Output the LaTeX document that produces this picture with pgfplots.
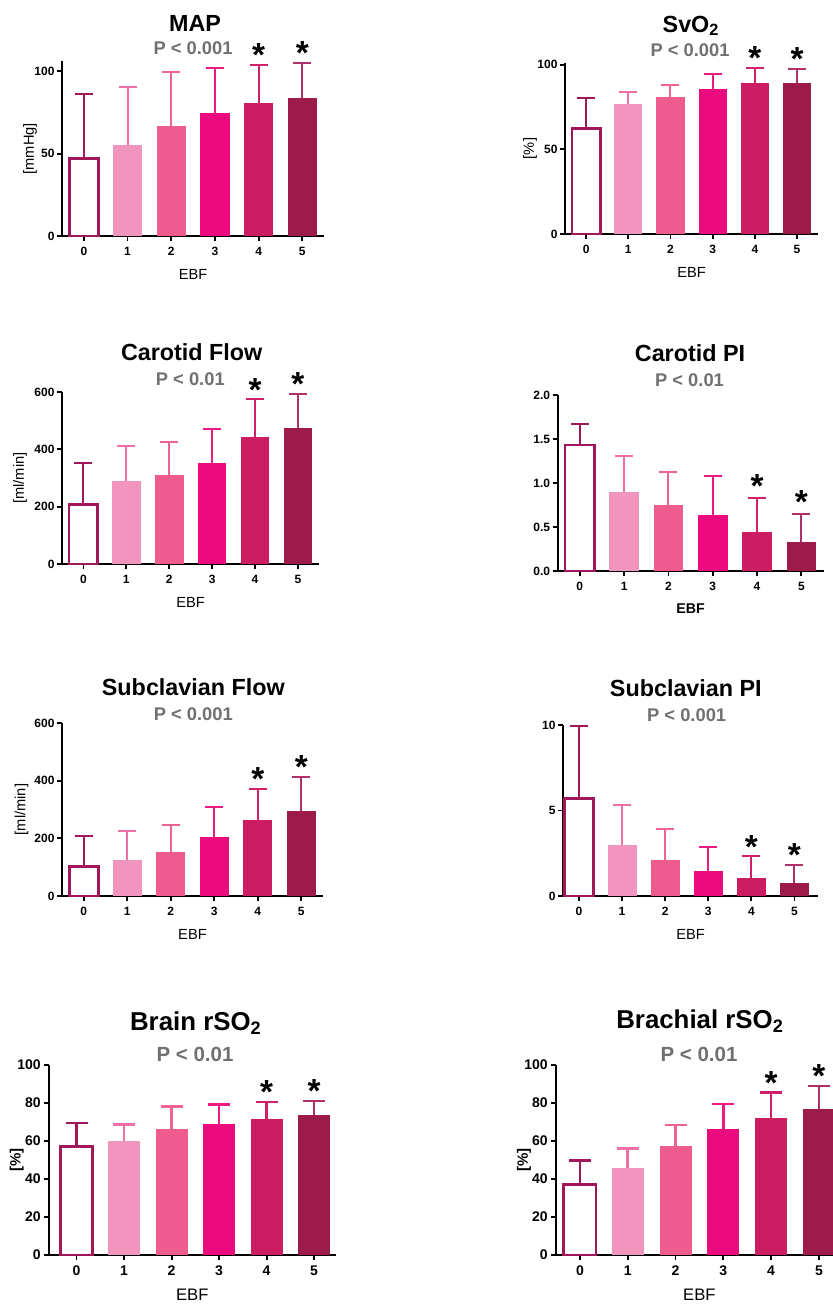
\documentclass[border=0pt]{standalone}
\usepackage{fontspec}
\setmainfont{Liberation Sans}
\usepackage{pgfplots}
\pgfplotsset{compat=1.18}

\definecolor{c0}{HTML}{A0185A}
\definecolor{c1}{HTML}{F295BE}
\definecolor{c2}{HTML}{EE5B8E}
\definecolor{c3}{HTML}{EC0B7E}
\definecolor{c4}{HTML}{CC1D62}
\definecolor{c5}{HTML}{9C1B4A}
\definecolor{e1}{HTML}{EE6FA3}
\definecolor{e2}{HTML}{EE6394}
\definecolor{e3}{HTML}{EC1A83}
\definecolor{e4}{HTML}{D0206A}
\definecolor{e5}{HTML}{B0306A}
\definecolor{pg}{HTML}{707070}

\def\elw{1.2pt}
\def\ems{5.4pt}
\newcommand{\bb}[5]{\addplot[ybar, bar shift=0pt, bar width=0.67, #1,
  error bars/.cd, y dir=plus, y explicit,
  error bar style={line width=\elw, color=#2},
  error mark options={rotate=90, color=#2, line width=\elw, mark size=\ems}]
  coordinates {(#3,#4) +- (0,#5)};}

\pgfplotsset{
  panel/.style={
    scale only axis, anchor=south west, clip=false,
    axis x line*=bottom, axis y line*=left,
    axis line style={-, line width=1.2pt, black},
    tick align=outside, major tick length=3pt,
    tick style={line width=1.1pt, black},
    xtick={0,...,5}, xmin=-0.5, xmax=5.5, ymin=0,
    /pgf/number format/assume math mode=true,
    ticklabel style={font=\bfseries\fontsize{7.2}{8}\selectfont},
    yticklabel style={xshift=2pt},
    every axis x label/.style={at={(axis description cs:0.5,0)}, anchor=center, yshift=-22.8pt},
    every axis y label/.style={at={(axis description cs:0,0.5)}, anchor=center},
    xlabel={EBF},
    label style={font=\fontsize{8.8}{9}\selectfont},
  },
  bigpanel/.style={panel,
    ticklabel style={font=\bfseries\fontsize{8.4}{9}\selectfont},
    yticklabel style={xshift=-0.5pt},
    label style={font=\bfseries\fontsize{9}{10}\selectfont},
    every axis x label/.style={at={(axis description cs:0.5,0)}, anchor=center, yshift=-24pt},
  },
}
\tikzset{
  astk/.style={anchor=south, inner sep=0pt, yshift=-1.2pt, font=\bfseries\fontsize{20}{20}\selectfont},
  ttl/.style={anchor=base, font=\bfseries\fontsize{14}{14}\selectfont},
  pv/.style={anchor=base, text=pg, font=\bfseries\fontsize{11}{11}\selectfont},
  bttl/.style={anchor=base, font=\bfseries\fontsize{15.5}{15.5}\selectfont},
  bpv/.style={anchor=base, text=pg, font=\bfseries\fontsize{12.3}{12.3}\selectfont},
}

\begin{document}
\begin{tikzpicture}
\path[use as bounding box] (0,0) rectangle (499.8pt,-783.6pt);

% MAP
\begin{axis}[panel, at={(37.2pt,-141.6pt)}, width=157.3pt, height=104.8pt,
  ymax=106, ytick={0,50,100}, ylabel={[mmHg]}, ylabel style={xshift=-19.2pt, rotate=90}]
\bb{draw=c0, fill=white, line width=1.6pt}{c0}{0}{47}{39}
\bb{draw=none, fill=c1}{e1}{1}{55.5}{35}
\bb{draw=none, fill=c2}{e2}{2}{67}{32.5}
\bb{draw=none, fill=c3}{e3}{3}{74.5}{27.5}
\bb{draw=none, fill=c4}{e4}{4}{81}{23}
\bb{draw=none, fill=c5}{e5}{5}{84}{21}
\node[astk] at (axis cs:4,104) {*};
\node[astk] at (axis cs:5,105) {*};
\end{axis}

% SvO2
\begin{axis}[panel, at={(339pt,-140.4pt)}, width=151.9pt, height=102.6pt,
  ymax=101, ytick={0,50,100}, ylabel={[\%]}, ylabel style={xshift=-21pt, rotate=90}]
\bb{draw=c0, fill=white, line width=1.6pt}{c0}{0}{62.2}{18.4}
\bb{draw=none, fill=c1}{e1}{1}{76.8}{7.1}
\bb{draw=none, fill=c2}{e2}{2}{80.7}{7.3}
\bb{draw=none, fill=c3}{e3}{3}{85.9}{8.6}
\bb{draw=none, fill=c4}{e4}{4}{89}{9}
\bb{draw=none, fill=c5}{e5}{5}{89.2}{8.5}
\node[astk] at (axis cs:4,98) {*};
\node[astk] at (axis cs:5,97.7) {*};
\end{axis}

% Carotid Flow
\begin{axis}[panel, at={(37.2pt,-338.4pt)}, width=154.4pt, height=103.2pt,
  ymax=600, ytick={0,200,400,600}, ylabel={[ml/min]}, ylabel style={xshift=-25.2pt, rotate=90}]
\bb{draw=c0, fill=white, line width=1.6pt}{c0}{0}{208}{146}
\bb{draw=none, fill=c1}{e1}{1}{288}{125}
\bb{draw=none, fill=c2}{e2}{2}{310}{117}
\bb{draw=none, fill=c3}{e3}{3}{354}{116}
\bb{draw=none, fill=c4}{e4}{4}{444}{130}
\bb{draw=none, fill=c5}{e5}{5}{475}{119}
\node[astk] at (axis cs:4,574) {*};
\node[astk] at (axis cs:5,594) {*};
\end{axis}

% Carotid PI
\begin{axis}[panel, at={(334.6pt,-342.6pt)}, width=159.5pt, height=105.6pt,
  ymax=2, ytick={0,0.5,1,1.5,2},
  yticklabel style={/pgf/number format/.cd, fixed, fixed zerofill, precision=1},
  label style={font=\bfseries\fontsize{8.5}{9}\selectfont}]
\bb{draw=c0, fill=white, line width=1.6pt}{c0}{0}{1.43}{0.24}
\bb{draw=none, fill=c1}{e1}{1}{0.90}{0.41}
\bb{draw=none, fill=c2}{e2}{2}{0.75}{0.375}
\bb{draw=none, fill=c3}{e3}{3}{0.64}{0.435}
\bb{draw=none, fill=c4}{e4}{4}{0.44}{0.386}
\bb{draw=none, fill=c5}{e5}{5}{0.33}{0.314}
\node[astk, yshift=1.5pt] at (axis cs:4,0.826) {*};
\node[astk, yshift=1.5pt] at (axis cs:5,0.644) {*};
\end{axis}

% Subclavian Flow
\begin{axis}[panel, at={(37.2pt,-537.6pt)}, width=156.6pt, height=103.8pt,
  ymax=600, ytick={0,200,400,600}, ylabel={[ml/min]}, ylabel style={xshift=-24.2pt, rotate=90}]
\bb{draw=c0, fill=white, line width=1.6pt}{c0}{0}{103}{106}
\bb{draw=none, fill=c1}{e1}{1}{125}{102}
\bb{draw=none, fill=c2}{e2}{2}{154}{91}
\bb{draw=none, fill=c3}{e3}{3}{206}{104}
\bb{draw=none, fill=c4}{e4}{4}{265}{106}
\bb{draw=none, fill=c5}{e5}{5}{294}{119}
\node[astk] at (axis cs:4,371) {*};
\node[astk] at (axis cs:5,413) {*};
\end{axis}

% Subclavian PI
\begin{axis}[panel, at={(337.8pt,-537.6pt)}, width=153.1pt, height=102.6pt,
  xmin=-0.37, xmax=5.55, ymax=10, ytick={0,5,10}]
\bb{draw=c0, fill=white, line width=1.6pt}{c0}{0}{5.71}{4.24}
\bb{draw=none, fill=c1}{e1}{1}{3.0}{2.32}
\bb{draw=none, fill=c2}{e2}{2}{2.12}{1.8}
\bb{draw=none, fill=c3}{e3}{3}{1.48}{1.39}
\bb{draw=none, fill=c4}{e4}{4}{1.05}{1.27}
\bb{draw=none, fill=c5}{e5}{5}{0.78}{1.05}
\node[astk] at (axis cs:4,2.32) {*};
\node[astk] at (axis cs:5,1.83) {*};
\end{axis}

\def\elw{1.5pt}
\def\ems{6.6pt}
% Brain rSO2
\begin{axis}[bigpanel, at={(29.4pt,-753pt)}, width=171.9pt, height=114pt,
  xmin=-0.58, xmax=5.45, ymax=100, ytick={0,20,...,100},
  ylabel={[\%]}, ylabel style={xshift=-19.4pt, rotate=90}]
\bb{draw=c0, fill=white, line width=1.7pt}{c0}{0}{57.1}{12.4}
\bb{draw=none, fill=c1}{e1}{1}{60.1}{8.5}
\bb{draw=none, fill=c2}{e2}{2}{66.4}{11.7}
\bb{draw=none, fill=c3}{e3}{3}{68.8}{10.5}
\bb{draw=none, fill=c4}{e4}{4}{71.6}{8.9}
\bb{draw=none, fill=c5}{e5}{5}{73.9}{7.1}
\node[astk] at (axis cs:4,80.5) {*};
\node[astk] at (axis cs:5,81.0) {*};
\end{axis}

% Brachial rSO2
\begin{axis}[bigpanel, at={(333.6pt,-753pt)}, width=172.1pt, height=114pt,
  ymax=100, ytick={0,20,...,100},
  ylabel={[\%]}, ylabel style={xshift=-19.2pt, rotate=90}]
\bb{draw=c0, fill=white, line width=1.7pt}{c0}{0}{37.0}{12.8}
\bb{draw=none, fill=c1}{e1}{1}{45.6}{10.5}
\bb{draw=none, fill=c2}{e2}{2}{57.4}{11}
\bb{draw=none, fill=c3}{e3}{3}{66.3}{13.2}
\bb{draw=none, fill=c4}{e4}{4}{71.9}{13.7}
\bb{draw=none, fill=c5}{e5}{5}{77.0}{11.9}
\node[astk] at (axis cs:4,85.6) {*};
\node[astk] at (axis cs:5,88.9) {*};
\end{axis}

% titles
\node[ttl] at (117pt,-19pt) {MAP};
\node[pv] at (115.8pt,-33pt) {P < 0.001};
\node[ttl] at (414.6pt,-19.4pt) {SvO\textsubscript{2}};
\node[pv] at (414pt,-34pt) {P < 0.001};
\node[ttl] at (115pt,-216.4pt) {Carotid Flow};
\node[pv] at (114.2pt,-231pt) {P < 0.01};
\node[ttl] at (414pt,-217pt) {Carotid PI};
\node[pv] at (413.7pt,-232pt) {P < 0.01};
\node[ttl] at (116pt,-417pt) {Subclavian Flow};
\node[pv] at (116pt,-432pt) {P < 0.001};
\node[ttl] at (411.5pt,-417.6pt) {Subclavian PI};
\node[pv] at (412pt,-433pt) {P < 0.001};
\node[bttl] at (117.5pt,-618pt) {Brain rSO\textsubscript{2}};
\node[bpv] at (117pt,-636.6pt) {P < 0.01};
\node[bttl] at (420pt,-617pt) {Brachial rSO\textsubscript{2}};
\node[bpv] at (419.4pt,-636.6pt) {P < 0.01};
\end{tikzpicture}
\end{document}
